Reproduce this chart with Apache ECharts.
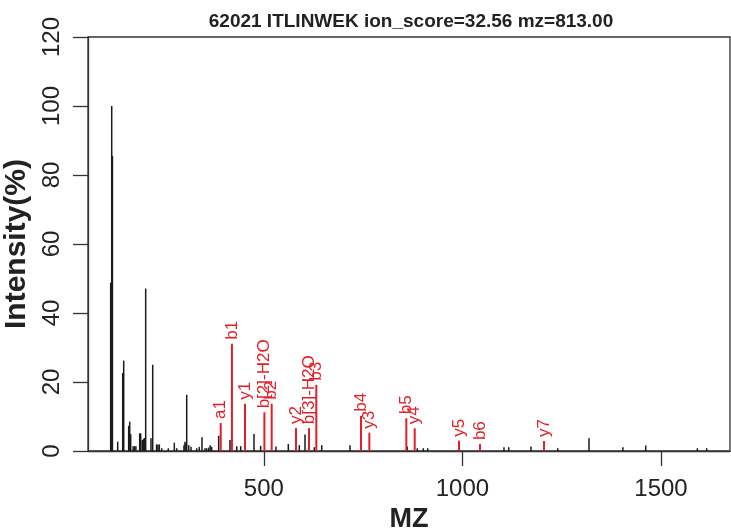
<!DOCTYPE html>
<html>
<head>
<meta charset="utf-8">
<script src="https://cdn.jsdelivr.net/npm/echarts@6/dist/echarts.min.js"></script>
<style>html,body{margin:0;padding:0;background:#fff;}#c{width:731px;height:529px;}</style>
</head>
<body>
<div id="c"></div>
<script>
// ---- data ----
var titleText = '62021 ITLINWEK ion_score=32.56 mz=813.00';
var xTicks = [500, 1000, 1500];
var yTicks = [0, 20, 40, 60, 80, 100, 120];

// unmatched peaks (black)
var peakMz = [114.5, 117.1, 118.9, 132.2, 144.8, 147.3, 159.8, 162.4, 164.9, 171, 174.5, 178,
  187.5, 190, 194, 197, 199, 202.6, 216, 220.3, 230, 233.5, 237, 243, 259.6, 274.7, 280.7,
  299, 301.5, 304, 305.9, 311, 316.7, 331, 337.6, 344.4, 352, 356, 361, 365, 368.8, 386.4,
  414.9, 431.8, 441.8, 475.3, 492, 530.7, 561.7, 589.4, 603.7, 627.2, 645.8, 717,
  861.3, 886.5, 901.6, 912.6, 1104.7, 1116.6, 1172.7, 1240, 1318.7, 1404, 1461.5, 1591.5, 1615];
var peakInt = [48.8, 100, 85.5, 2.7, 22.6, 26.2, 7.3, 8.5, 4.9, 1.4, 1.4, 1.4,
  5.1, 5.1, 3.2, 3.4, 3.8, 47.1, 3.7, 25, 1.9, 1.9, 1.9, 0.8, 0.8, 2.4, 0.8,
  1.7, 2.7, 2.2, 16.3, 1.7, 1.2, 0.8, 1.2, 4.0, 0.8, 0.8, 1.0, 1.7, 1.2, 4.4,
  3.2, 1.4, 1.4, 4.9, 1.5, 1.3, 2.0, 1.7, 4.8, 1.1, 1.7, 1.7,
  1.3, 0.8, 0.8, 0.8, 1.1, 1.1, 1.3, 0.8, 3.7, 1.1, 1.6, 0.8, 0.8];

// matched fragment ions (red)
var ionLabel = ['a1', 'b1', 'y1', 'b[2]-H2O', 'b2', 'y2', 'b[3]-H2O', 'b3', 'b4', 'y3', 'b5', 'y4', 'y5', 'b6', 'y7'];
var ionMz = [391.5, 419.8, 452.7, 501.5, 519.8, 581, 613.8, 632.2, 744.7, 765.7, 858.8, 879.9, 991.4, 1044.3, 1205.5];
var ionInt = [8.1, 31.1, 13.7, 11.2, 13.7, 6.7, 6.6, 19.2, 10.2, 5.3, 9.5, 6.6, 3.0, 2.0, 2.9];

// ---- chart ----
var FONT = '"Liberation Sans", Arial, Helvetica, sans-serif';
var RED = '#e41e26';
var blackData = peakMz.map(function (m, i) { return [m, peakInt[i]]; });
var ionData = ionMz.map(function (m, i) { return [m, ionInt[i], ionLabel[i]]; });

function stickRender(color, width, withLabel) {
  return function (params, api) {
    var top = api.coord([api.value(0), api.value(1)]);
    var base = api.coord([api.value(0), 0]);
    var children = [{
      type: 'line',
      shape: { x1: top[0], y1: base[1], x2: top[0], y2: top[1] },
      style: { stroke: color, lineWidth: width }
    }];
    if (withLabel) {
      children.push({
        type: 'text',
        x: top[0], y: top[1] - 4,
        rotation: Math.PI / 2,
        style: {
          text: ionLabel[params.dataIndex],
          fill: color,
          font: '17px ' + FONT,
          align: 'left',
          verticalAlign: 'middle'
        }
      });
    }
    return { type: 'group', children: children };
  };
}

var chart = echarts.init(document.getElementById('c'), null, { renderer: 'canvas' });
chart.setOption({
  animation: false,
  backgroundColor: '#ffffff',
  title: {
    text: titleText,
    left: 406, top: 7,
    textAlign: 'center',
    textStyle: { fontFamily: FONT, fontSize: 19, fontWeight: 'bold', color: '#222' }
  },
  grid: {
    left: 88, right: 1, top: 37, bottom: 78,
    containLabel: false, outerBoundsMode: 'none',
    show: true, borderColor: '#333', borderWidth: 1.3, backgroundColor: 'transparent'
  },
  xAxis: {
    type: 'value', min: 57.4, max: 1673.7,
    name: 'MZ', nameLocation: 'middle', nameGap: 52,
    nameTextStyle: { fontFamily: FONT, fontSize: 27, fontWeight: 'bold', color: '#222' },
    axisLine: { show: true, lineStyle: { color: '#333', width: 1.3 } },
    axisTick: { show: true, length: 15, lineStyle: { color: '#333', width: 1.3 }, customValues: xTicks },
    axisLabel: { fontFamily: FONT, fontSize: 24, color: '#222', margin: 26, customValues: xTicks,
      formatter: function (v) { return String(v); } },
    splitLine: { show: false }
  },
  yAxis: {
    type: 'value', min: 0, max: 120, interval: 20,
    name: 'Intensity(%)', nameLocation: 'middle', nameGap: 50,
    nameTextStyle: { fontFamily: FONT, fontSize: 30, fontWeight: 'bold', color: '#222' },
    axisLine: { show: true, lineStyle: { color: '#333', width: 1.3 } },
    axisTick: { show: true, length: 15, lineStyle: { color: '#333', width: 1.3 } },
    axisLabel: { fontFamily: FONT, fontSize: 24, color: '#222', margin: 24, rotate: 90,
      formatter: function (v) { return String(v); } },
    splitLine: { show: false }
  },
  series: [
    {
      type: 'custom', name: 'peaks', data: blackData,
      renderItem: stickRender('#1a1a1a', 1.5, false),
      encode: { x: 0, y: 1 }, clip: true, silent: true
    },
    {
      type: 'custom', name: 'ions', data: ionData,
      renderItem: stickRender(RED, 2, true),
      encode: { x: 0, y: 1 }, clip: false, silent: true, z: 3
    }
  ]
});
</script>
</body>
</html>
